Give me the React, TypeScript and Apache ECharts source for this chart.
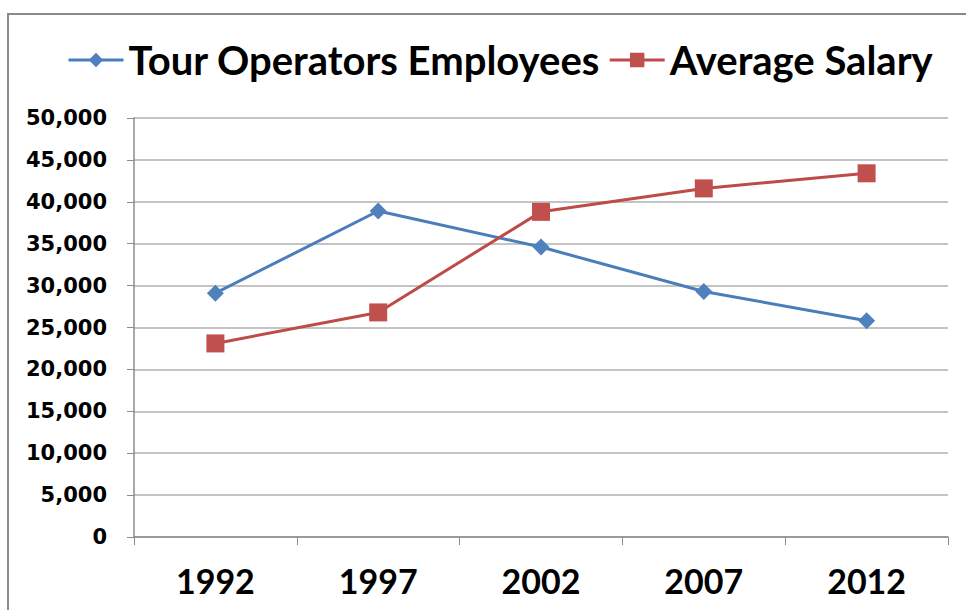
import React, { useEffect, useRef } from "react";
import * as echarts from "echarts";

const years = ["1992", "1997", "2002", "2007", "2012"];
const employees = [29100, 38900, 34600, 29300, 25800];
const salary = [23100, 26800, 38800, 41600, 43400];
const seriesNames = ["Tour Operators Employees", "Average Salary"];

export default function App() {
  const ref = useRef<HTMLDivElement>(null);
  useEffect(() => {
    const chart = echarts.init(ref.current!, null, { renderer: "svg" });
    chart.setOption({
      animation: false,
      backgroundColor: "#ffffff",
      graphic: [
        {
          type: "rect",
          shape: { x: 8, y: 14, width: 1000, height: 700 },
          style: { fill: "none", stroke: "#8a8a8a", lineWidth: 2 },
          silent: true,
        },
      ],
      legend: {
        left: 67,
        top: 38,
        padding: 0,
        itemWidth: 55,
        itemHeight: 18,
        itemGap: 8,
        lineStyle: { width: 3 },
        textStyle: {
          fontFamily: "Lato",
          fontWeight: "bold",
          fontSize: 40,
          color: "#000",
          lineHeight: 44,
        },
        data: seriesNames,
      },
      grid: { left: 134, right: 18, top: 118, bottom: 73 },
      xAxis: {
        type: "category",
        data: years,
        boundaryGap: true,
        axisLine: { lineStyle: { color: "#8c8c8c", width: 1.5 } },
        axisTick: { show: true, length: 8, lineStyle: { color: "#8c8c8c" } },
        axisLabel: {
          margin: 26,
          fontFamily: "Lato",
          fontWeight: "bold",
          fontSize: 34,
          color: "#000",
        },
      },
      yAxis: {
        type: "value",
        min: 0,
        max: 50000,
        interval: 5000,
        axisLine: { show: true, lineStyle: { color: "#8c8c8c", width: 1.5 } },
        axisTick: { show: true, length: 7, lineStyle: { color: "#8c8c8c" } },
        splitLine: { show: true, lineStyle: { color: "#b0b0b0", width: 1.5 } },
        axisLabel: {
          margin: 27,
          fontFamily: "DejaVu Sans",
          fontWeight: "bold",
          fontSize: 21,
          color: "#000",
          formatter: (v: number) => v.toLocaleString("en-US"),
        },
      },
      series: [
        {
          name: seriesNames[0],
          type: "line",
          data: employees,
          symbol: "diamond",
          symbolSize: 17,
          lineStyle: { color: "#4A7EBB", width: 3 },
          itemStyle: { color: "#4F81BD" },
        },
        {
          name: seriesNames[1],
          type: "line",
          data: salary,
          symbol: "rect",
          symbolSize: 18,
          lineStyle: { color: "#BE4B48", width: 3 },
          itemStyle: { color: "#C0504D" },
        },
      ],
    });
    return () => chart.dispose();
  }, []);
  return (
    <div
      ref={ref}
      style={{ position: "absolute", left: 0, top: 0, width: 966, height: 610 }}
    />
  );
}
